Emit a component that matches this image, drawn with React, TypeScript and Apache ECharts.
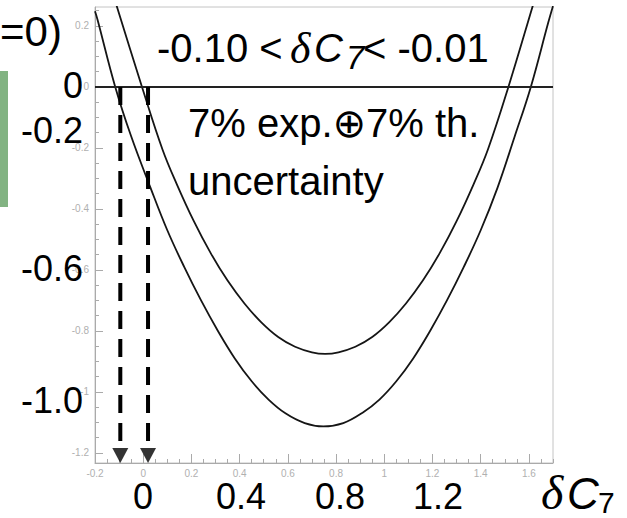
import React, { useEffect, useRef } from "react";
import * as echarts from "echarts";

// Axis extents of the plot frame
const X_MIN = -0.2;
const X_MAX = 1.7;
const Y_MIN = -1.233;
const Y_MAX = 0.262;

// Major tick positions (small grey labels)
const xMajorTicks = [-0.2, 0, 0.2, 0.4, 0.6, 0.8, 1, 1.2, 1.4, 1.6];
const yMajorTicks = [0.2, 0, -0.2, -0.4, -0.6, -0.8, -1, -1.2];

// Wider contour (deeper minimum)
const outerX = [-0.2, -0.19, -0.116, -0.05, 0.03, 0.1, 0.17, 0.24, 0.31, 0.38, 0.45, 0.52, 0.59, 0.67, 0.747,
  0.83, 0.91, 0.98, 1.05, 1.12, 1.19, 1.26, 1.33, 1.4, 1.47, 1.54, 1.608, 1.68, 1.7];
const outerY = [0.248, 0.222, 0.0, -0.162, -0.33, -0.47, -0.59, -0.7, -0.8, -0.89, -0.965, -1.025, -1.07, -1.102, -1.113,
  -1.102, -1.068, -1.025, -0.965, -0.89, -0.8, -0.7, -0.59, -0.47, -0.33, -0.165, 0.0, 0.21, 0.265];

// Narrower contour (shallower minimum)
const innerX = [-0.13, -0.109, -0.005, 0.08, 0.14, 0.21, 0.28, 0.35, 0.42, 0.49, 0.56, 0.63, 0.7, 0.755,
  0.81, 0.88, 0.95, 1.02, 1.09, 1.16, 1.23, 1.3, 1.37, 1.43, 1.515, 1.615, 1.64];
const innerY = [0.32, 0.263, 0.0, -0.205, -0.32, -0.44, -0.545, -0.635, -0.71, -0.772, -0.82, -0.852, -0.87, -0.875,
  -0.87, -0.852, -0.82, -0.772, -0.71, -0.635, -0.545, -0.44, -0.32, -0.205, 0.0, 0.263, 0.33];

// Dashed arrows dropping from the zero line to the axis
const arrowX = [-0.095, 0.02];
const arrowTop = 0;
const arrowShaftEnd = -1.19;

// Large overlay tick labels
const bigYLabels = ["0", "-0.2", "-0.6", "-1.0"];
const bigXLabels = ["0", "0.4", "0.8", "1.2"];

const SANS = "'Liberation Sans', Arial, 'DejaVu Sans', sans-serif";
const SERIF = "'Liberation Serif', 'Times New Roman', 'DejaVu Serif', serif";

function minorValues(lo: number, hi: number, majors: number[]): number[] {
  const out: number[] = [];
  for (let i = Math.ceil(lo / 0.05); i * 0.05 <= hi + 1e-9; i++) {
    const v = Math.round(i * 5) / 100;
    if (!majors.some((m) => Math.abs(m - v) < 1e-6)) out.push(v);
  }
  return out;
}

function txt(text: string, x: number, y: number, size: number, opts: any = {}) {
  const align = opts.align || "left";
  return {
    type: "text",
    x,
    y,
    z: 100,
    silent: true,
    style: {
      text,
      fill: "#000",
      fontSize: size,
      fontFamily: opts.family || SANS,
      fontStyle: opts.italic ? "italic" : "normal",
      textAlign: align,
      align,
      textVerticalAlign: "middle",
      verticalAlign: "middle",
    },
  };
}

export default function App() {
  const ref = useRef<HTMLDivElement>(null);

  useEffect(() => {
    if (!ref.current) return;
    const chart = echarts.init(ref.current, null, { renderer: "svg" });

    const xMinor = minorValues(X_MIN, X_MAX, xMajorTicks);
    const yMinor = minorValues(Y_MIN, Y_MAX, yMajorTicks);

    const grey = "#aaaaaa";
    const labelGrey = "#b0b0b0";

    const bigYPos = [85, 130, 268, 400];
    const bigXPos = [143, 241, 340, 438];

    const graphics: any[] = [
      {
        type: "rect",
        shape: { x: 0, y: 71, width: 8, height: 136 },
        style: { fill: "#82b382" },
        silent: true,
      },
      txt("=0)", 0, 31, 42),
      ...bigYLabels.map((t, i) => txt(t, 83, bigYPos[i], 36, { align: "right" })),
      ...bigXLabels.map((t, i) => txt(t, bigXPos[i], 496, 36, { align: "center" })),
      // axis title
      txt("δ", 541, 492, 48, { italic: true, family: SERIF }),
      txt("C", 567, 493, 44, { italic: true }),
      txt("7", 598, 502, 30),
      // range annotation
      txt("-0.10 < ", 157, 48, 40),
      txt("δ", 290, 48, 44, { italic: true, family: SERIF }),
      txt("C", 314, 48, 40, { italic: true }),
      txt("7", 346, 57, 33, { italic: true }),
      txt("< -0.01", 363, 48, 40),
      txt("7% exp.⊕7% th.", 188, 123, 40),
      txt("uncertainty", 188, 181, 40),
    ];

    const curveStyle = { color: "#151515", width: 1.8 };

    chart.setOption({
      animation: false,
      backgroundColor: "#ffffff",
      grid: {
        left: 95,
        right: 74,
        top: 7,
        bottom: 55,
        show: true,
        borderColor: "#c4c4c4",
        borderWidth: 1,
        backgroundColor: "transparent",
      },
      xAxis: [
        {
          type: "value",
          min: X_MIN,
          max: X_MAX,
          position: "bottom",
          axisLine: { show: true, onZero: false, lineStyle: { color: grey, width: 1 } },
          axisTick: { show: true, inside: true, length: 9, lineStyle: { color: grey }, customValues: xMajorTicks },
          axisLabel: { show: true, color: labelGrey, fontSize: 10, margin: 5, fontFamily: SANS, customValues: xMajorTicks },
          splitLine: { show: false },
        },
        {
          type: "value",
          min: X_MIN,
          max: X_MAX,
          position: "bottom",
          axisLine: { show: false, onZero: false },
          axisTick: { show: true, inside: true, length: 4, lineStyle: { color: grey }, customValues: xMinor },
          axisLabel: { show: false },
          splitLine: { show: false },
        },
      ],
      yAxis: [
        {
          type: "value",
          min: Y_MIN,
          max: Y_MAX,
          position: "left",
          axisLine: { show: true, onZero: false, lineStyle: { color: grey, width: 1 } },
          axisTick: { show: true, inside: true, length: 8, lineStyle: { color: grey }, customValues: yMajorTicks },
          axisLabel: { show: true, color: labelGrey, fontSize: 10, margin: 6, fontFamily: SANS, customValues: yMajorTicks },
          splitLine: { show: false },
        },
        {
          type: "value",
          min: Y_MIN,
          max: Y_MAX,
          position: "left",
          axisLine: { show: false, onZero: false },
          axisTick: { show: true, inside: true, length: 4, lineStyle: { color: grey }, customValues: yMinor },
          axisLabel: { show: false },
          splitLine: { show: false },
        },
      ],
      series: [
        {
          type: "line",
          data: outerX.map((x, i) => [x, outerY[i]]),
          showSymbol: false,
          smooth: 0.4,
          clip: true,
          lineStyle: curveStyle,
          silent: true,
        },
        {
          type: "line",
          data: innerX.map((x, i) => [x, innerY[i]]),
          showSymbol: false,
          smooth: 0.4,
          clip: true,
          lineStyle: curveStyle,
          silent: true,
        },
        {
          type: "line",
          data: [[X_MIN, 0], [X_MAX, 0]],
          showSymbol: false,
          lineStyle: { color: "#222", width: 2 },
          silent: true,
        },
        ...arrowX.map((x) => ({
          type: "line",
          data: [[x, arrowTop], [x, arrowShaftEnd]],
          showSymbol: false,
          lineStyle: { color: "#000", width: 4, type: [18, 10] },
          silent: true,
        })),
        {
          type: "scatter",
          data: arrowX.map((x) => [x, Y_MIN]),
          symbol: "path://M0,0 L16,0 L8,15 Z",
          symbolSize: [16, 15],
          symbolOffset: [0, -7.5],
          itemStyle: { color: "#000" },
          clip: false,
          silent: true,
        },
      ],
      graphic: graphics,
    });

    return () => chart.dispose();
  }, []);

  return (
    <div
      ref={ref}
      style={{ position: "absolute", left: 0, top: 0, width: 627, height: 518, background: "#fff" }}
    />
  );
}
